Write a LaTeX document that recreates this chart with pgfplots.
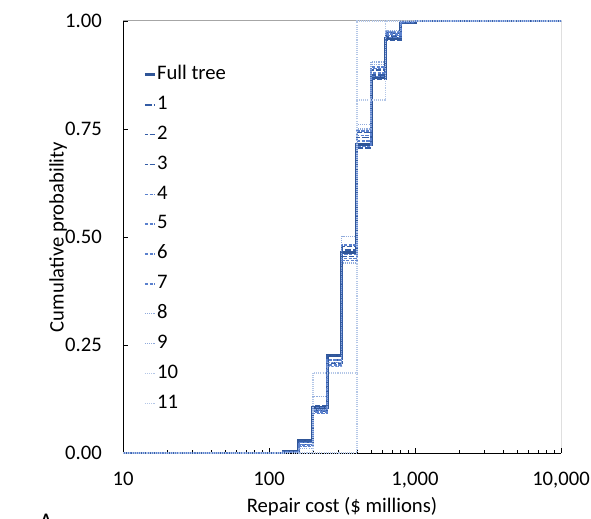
\documentclass[border=0pt]{standalone}
\usepackage{pgfplots}
\pgfplotsset{compat=1.18}
\usepackage{fontspec}
\setmainfont{Carlito}
\definecolor{cfull}{RGB}{47,85,151}
\definecolor{cdark}{RGB}{52,92,165}
\definecolor{cmid}{RGB}{90,128,205}
\definecolor{clight}{RGB}{143,170,220}
\definecolor{cvlight}{RGB}{180,199,231}
\newcommand{\chartfont}{\fontsize{15.5}{18}\selectfont}
\begin{document}
\begin{tikzpicture}[x=1pt,y=1pt]
\begin{axis}[
  at={(92.25pt,48.75pt)}, anchor=south west,
  scale only axis, width=328.5pt, height=324pt,
  xmode=log, xmin=10, xmax=10000, ymin=0, ymax=1,
  axis x line*=bottom, axis y line*=left,
  axis line style={-, black, line width=0.75pt},
  xtick={10,100,1000,10000}, xticklabels={10,100,{1,000},{10,000}},
  ytick={0,0.25,0.5,0.75,1}, yticklabels={0.00,0.25,0.50,0.75,1.00},
  tick align=inside,
  major tick length=3.75pt, minor tick length=2.25pt,
  tick style={black, line width=0.6pt},
  tick label style={font=\chartfont, inner sep=0pt},
  label style={font=\chartfont},
  yticklabel style={xshift=-15.75pt},
  xticklabel style={yshift=-13.9pt},
  xlabel={Repair cost (\$ millions)}, ylabel={Cumulative probability},
  xlabel style={at={(axis description cs:0.5,-0.125)}, anchor=center},
  ylabel style={at={(axis description cs:-0.1484,0.5)}, anchor=center},
  legend cell align=left,
  legend image code/.code={\draw[#1] (0pt,0pt) -- (7.5pt,0pt);},
  legend style={at={(axis description cs:0.046,0.896)}, anchor=north west,
    draw=none, fill=none, inner sep=0pt, row sep=9.4pt, font=\chartfont,
    nodes={inner xsep=0.5pt, inner ysep=0pt, text height=10pt, text depth=3pt}},
  const plot,
]
\draw[gray!70, line width=0.75pt] (rel axis cs:0,1) -- (rel axis cs:1,1);
\draw[black, line width=0.75pt] (rel axis cs:1,0) -- (rel axis cs:1,1);
\addplot[cfull, line width=2.25pt] coordinates {(10,0)(125,0.003)(160,0.03)(200,0.105)(250,0.225)(315,0.465)(400,0.715)(500,0.87)(630,0.96)(800,0.997)(1000,1)(10000,1)};
\addlegendentry{Full tree}
\addplot[cdark, line width=1.2pt, dash pattern=on 5pt off 1.5pt] coordinates {(10,0)(125,0.003)(160,0.025)(200,0.10)(250,0.215)(315,0.47)(400,0.73)(500,0.875)(630,0.965)(800,0.998)(1000,1)(10000,1)};
\addlegendentry{1}
\addplot[cdark, line width=1.2pt, dash pattern=on 4pt off 1.5pt, dash phase=2pt] coordinates {(10,0)(125,0.002)(160,0.02)(200,0.097)(250,0.208)(315,0.455)(400,0.706)(500,0.866)(630,0.955)(800,0.996)(1000,1)(10000,1)};
\addlegendentry{2}
\addplot[cdark, line width=1.2pt, dash pattern=on 4pt off 1.5pt, dash phase=2pt] coordinates {(10,0)(125,0.003)(160,0.028)(200,0.11)(250,0.226)(315,0.478)(400,0.742)(500,0.886)(630,0.972)(800,0.999)(1000,1)(10000,1)};
\addlegendentry{3}
\addplot[cmid, line width=1.1pt, dash pattern=on 2.5pt off 1pt] coordinates {(10,0)(125,0.002)(160,0.015)(200,0.092)(250,0.204)(315,0.45)(400,0.722)(500,0.88)(630,0.966)(800,0.998)(1000,1)(10000,1)};
\addlegendentry{4}
\addplot[cmid, line width=1.1pt, dash pattern=on 2.5pt off 1pt] coordinates {(10,0)(125,0.002)(160,0.02)(200,0.1)(250,0.21)(315,0.482)(400,0.745)(500,0.893)(630,0.975)(800,0.999)(1000,1)(10000,1)};
\addlegendentry{5}
\addplot[cmid, line width=1.1pt, dash pattern=on 2.5pt off 1pt] coordinates {(10,0)(125,0.003)(160,0.024)(200,0.105)(250,0.215)(315,0.46)(400,0.735)(500,0.89)(630,0.97)(800,0.998)(1000,1)(10000,1)};
\addlegendentry{6}
\addplot[cmid, line width=1.1pt, dash pattern=on 2.5pt off 1pt] coordinates {(10,0)(125,0.002)(160,0.018)(200,0.095)(250,0.2)(315,0.445)(400,0.71)(500,0.872)(630,0.962)(800,0.997)(1000,1)(10000,1)};
\addlegendentry{7}
\addplot[clight, line width=0.9pt, dash pattern=on 0.8pt off 0.8pt] coordinates {(10,0)(160,0.0)(200,0.13)(250,0.21)(315,0.502)(400,0.76)(500,0.9)(630,0.975)(800,1)(10000,1)};
\addlegendentry{8}
\addplot[clight, line width=0.9pt, dash pattern=on 0.8pt off 0.8pt] coordinates {(10,0)(160,0.01)(200,0.1)(250,0.2)(315,0.44)(400,0.75)(500,0.905)(630,0.978)(800,1)(10000,1)};
\addlegendentry{9}
\addplot[cvlight, line width=0.9pt, dash pattern=on 0.8pt off 0.8pt] coordinates {(10,0)(400,1)(10000,1)};
\addlegendentry{10}
\addplot[cvlight, line width=0.9pt, dash pattern=on 0.8pt off 0.8pt] coordinates {(10,0)(200,0.185)(400,0.817)(630,1)(10000,1)};
\addlegendentry{11}
\end{axis}
\node[anchor=north, font=\fontsize{18}{20}\selectfont] at (34.5pt,6.75pt) {A};
\pgfresetboundingbox
\path (0,0) rectangle (443.25pt,388.5pt);
\end{tikzpicture}
\end{document}
